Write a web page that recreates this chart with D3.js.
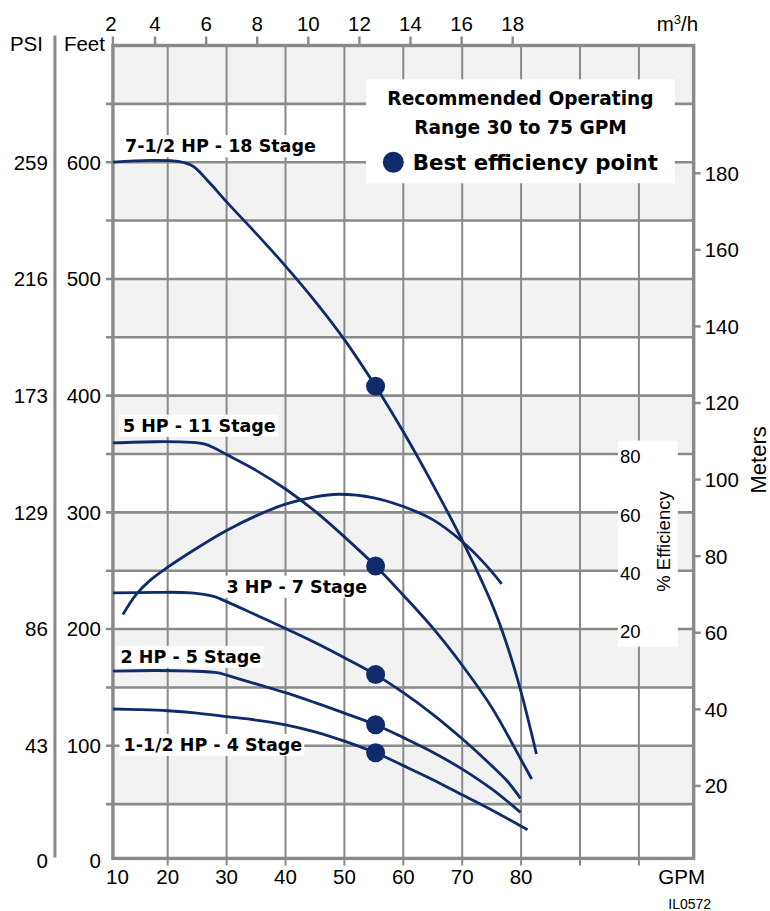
<!DOCTYPE html>
<html><head><meta charset="utf-8">
<script src="https://cdn.jsdelivr.net/npm/d3@7/dist/d3.min.js"></script>
<style>body{margin:0;background:#fff}svg{display:block}</style>
</head><body>
<svg id="c" width="770" height="911"></svg>
<script>
// ---------- data ----------
const gpmTicks = [10, 20, 30, 40, 50, 60, 70, 80];
const gpmGrid = [20, 30, 40, 50, 60, 70, 80, 90, 100];
const m3hTicks = [2, 4, 6, 8, 10, 12, 14, 16, 18];
const feetTicks = [0, 100, 200, 300, 400, 500, 600];
const psiLabels = [0, 43, 86, 129, 173, 216, 259];
const feetGrid = [50, 100, 150, 200, 250, 300, 350, 400, 450, 500, 550, 600, 650];
const meterTicks = [20, 40, 60, 80, 100, 120, 140, 160, 180];
const effTicks = [20, 40, 60, 80];

const curveNames = ["7-1/2 HP - 18 Stage", "5 HP - 11 Stage", "3 HP - 7 Stage", "2 HP - 5 Stage", "1-1/2 HP - 4 Stage"];
const hp75Flow = [10.7, 17, 22, 24.3, 27, 30, 35, 40, 45, 50, 55.3, 60, 65, 70, 75, 77.5, 80, 82.6];
const hp75Head = [600, 601.5, 600.5, 596.5, 583, 566, 539, 511, 481, 448, 408, 369, 324, 276, 222, 188, 146, 93];
const hp5Flow = [10.7, 18, 24, 26.3, 28, 30, 35, 40, 45, 50, 55.3, 60, 65, 70, 75, 80, 81.8];
const hp5Head = [359.5, 360.5, 360, 358.5, 355, 349.5, 336, 320, 301, 279, 254, 229, 201, 169, 133, 88, 71.5];
const hp3Flow = [10.7, 18, 24, 27.8, 30, 35, 40, 45, 50, 55.3, 60, 65, 70, 75, 77.6, 79.9];
const hp3Head = [231, 231.5, 231, 228, 223.5, 212, 200.5, 188.5, 175.5, 161, 145.5, 127, 106, 83, 70, 55];
const hp2Flow = [10.7, 18, 24, 28.6, 30, 35, 40, 45, 50, 55.3, 60, 65, 70, 75, 79.9];
const hp2Head = [164, 164.5, 164, 162.5, 160.5, 153, 145.5, 137, 128, 118, 107, 94.5, 80, 63, 43];
const hp15Flow = [10.7, 15, 20, 25, 30, 35, 40, 45, 50, 55.3, 60, 65, 70, 75, 81.1];
const hp15Head = [131.5, 131, 130, 128, 125, 122, 118, 112, 104, 94, 83, 71, 58, 45, 28];
const bepFlow = [55.3, 55.3, 55.3, 55.3, 55.3];
const bepHead = [408, 254, 161, 118, 94];
const effFlow = [12.4, 13.5, 14.7, 17, 20, 25, 30, 35, 40, 45, 49, 55, 60, 65, 70, 74, 76.7];
const effPct = [25, 28.6, 32, 36.7, 41.2, 47.8, 53.8, 58.8, 62.8, 65.3, 66.2, 65, 62, 57.5, 50, 42, 35.5];
// label anchors (flow, head)
const labelFlow = [12.75, 12.4, 30, 12.0, 12.5];
const labelHead = [614, 374.5, 236.5, 176.5, 101];

// ---------- scales ----------
const x = d3.scaleLinear().domain([10, 110]).range([108.8, 697.8]);
const y = d3.scaleLinear().domain([0, 700]).range([862.5, 45.5]);
const xTop = d3.scaleLinear().domain([0, 20]).range([x(0.5), x(87.25)]);
const yEff = d3.scaleLinear().domain([0, 100]).range([y(150), y(400)]);
const yMeters = m => y(m * 3.28084);

const F = {x0: x(10.7), x1: x(109.3), y0: y(700), y1: y(3.5)};
const GRID = "#8a8a8a", NAVY = "#0f2b6b", BAND = "#f2f2f2";
const REG = "'Liberation Sans', Arial, sans-serif";
const BOLD = "'DejaVu Sans', sans-serif";

const svg = d3.select("#c");

// bands
const bands = feetGrid.filter(v => v % 100 === 50);
svg.append("g").selectAll("rect").data(bands).join("rect")
  .attr("x", F.x0).attr("width", F.x1 - F.x0)
  .attr("y", d => y(d + 50)).attr("height", d => y(d) - y(d + 50))
  .attr("fill", BAND);

// vertical grid
svg.append("g").selectAll("line").data(gpmGrid).join("line")
  .attr("x1", d => x(d)).attr("x2", d => x(d))
  .attr("y1", F.y0).attr("y2", F.y1 + 7)
  .attr("stroke", GRID).attr("stroke-width", 2);
// horizontal grid
svg.append("g").selectAll("line").data(feetGrid).join("line")
  .attr("x1", F.x0 - 7).attr("x2", F.x1)
  .attr("y1", d => y(d)).attr("y2", d => y(d))
  .attr("stroke", GRID).attr("stroke-width", 2.6);
// top ticks (m3/h)
svg.append("g").selectAll("line").data(m3hTicks).join("line")
  .attr("x1", d => Math.max(xTop(d), F.x0)).attr("x2", d => Math.max(xTop(d), F.x0))
  .attr("y1", F.y0 - 9).attr("y2", F.y0)
  .attr("stroke", GRID).attr("stroke-width", 2.4);
// right ticks (meters)
svg.append("g").selectAll("line").data(meterTicks).join("line")
  .attr("x1", F.x1).attr("x2", F.x1 + 7)
  .attr("y1", d => yMeters(d)).attr("y2", d => yMeters(d))
  .attr("stroke", GRID).attr("stroke-width", 2.4);
// frame
svg.append("rect").attr("x", F.x0).attr("y", F.y0)
  .attr("width", F.x1 - F.x0).attr("height", F.y1 - F.y0)
  .attr("fill", "none").attr("stroke", GRID).attr("stroke-width", 3.4);
// PSI / Feet separator
svg.append("line").attr("x1", F.x0 - 58).attr("x2", F.x0 - 58)
  .attr("y1", F.y0 - 10).attr("y2", F.y1 - 1)
  .attr("stroke", GRID).attr("stroke-width", 3);

// ---------- axis text ----------
const txt = (g) => g.attr("font-family", REG).attr("font-size", 20.5).attr("fill", "#000");
const gl = svg.append("g").call(txt);
gl.selectAll(".ft").data(feetTicks).join("text")
  .attr("x", F.x0 - 12).attr("y", d => Math.min(y(d), F.y1 + 2)).attr("dy", "0.36em")
  .attr("text-anchor", "end").text(d => d);
gl.selectAll(".psi").data(psiLabels).join("text")
  .attr("x", F.x0 - 65).attr("y", (d, i) => Math.min(y(feetTicks[i]), F.y1 + 2)).attr("dy", "0.36em")
  .attr("text-anchor", "end").text(d => d);
gl.append("text").attr("x", F.x0 - 103).attr("y", F.y0 + 5).text("PSI");
gl.append("text").attr("x", F.x0 - 49).attr("y", F.y0 + 5).text("Feet");
gl.selectAll(".gpm").data(gpmTicks).join("text")
  .attr("x", d => Math.max(x(d), F.x0 + 4.5)).attr("y", F.y1 + 26)
  .attr("text-anchor", "middle").text(d => d);
gl.append("text").attr("x", F.x1 - 12).attr("y", F.y1 + 26).attr("text-anchor", "middle").text("GPM");
gl.selectAll(".m3").data(m3hTicks).join("text")
  .attr("x", d => Math.max(xTop(d), F.x0 - 2)).attr("y", F.y0 - 15)
  .attr("text-anchor", "middle").text(d => d);
const mh = gl.append("text").attr("x", F.x1 - 37).attr("y", F.y0 - 15);
mh.append("tspan").text("m");
mh.append("tspan").attr("font-size", 13).attr("dy", -7).text("3");
mh.append("tspan").attr("dy", 7).text("/h");
gl.selectAll(".mt").data(meterTicks).join("text")
  .attr("x", F.x1 + 11).attr("y", d => yMeters(d)).attr("dy", "0.36em").text(d => d);
gl.append("text").attr("transform", `translate(${F.x1 + 72},${y(345)}) rotate(-90)`)
  .attr("text-anchor", "middle").attr("font-size", 22).text("Meters");
gl.append("text").attr("x", F.x1 - 4).attr("y", F.y1 + 51).attr("font-size", 14)
  .attr("text-anchor", "middle").text("IL0572");

// efficiency axis box
const ebox = svg.append("g");
ebox.append("rect").attr("x", x(96.45)).attr("width", x(106.6) - x(96.45))
  .attr("y", yEff(84.6)).attr("height", yEff(14) - yEff(84.6)).attr("fill", "#fff");
ebox.selectAll("text.e").data(effTicks).join("text")
  .attr("x", x(96.8)).attr("y", d => yEff(d) + 2.5).attr("dy", "0.36em")
  .attr("font-family", REG).attr("font-size", 18.5).text(d => d);
ebox.append("text").attr("transform", `translate(${x(104.1)},${yEff(50)}) rotate(-90)`)
  .attr("text-anchor", "middle").attr("dy", "0.36em")
  .attr("font-family", REG).attr("font-size", 18.5).text("% Efficiency");

// legend
const lg = svg.append("g");
lg.append("rect").attr("x", x(53.67)).attr("width", x(106.1) - x(53.67))
  .attr("y", y(671)).attr("height", y(582) - y(671)).attr("fill", "#fff");
lg.append("text").attr("x", x(79.9)).attr("y", y(655)).attr("dy", "0.36em")
  .attr("text-anchor", "middle").attr("font-family", BOLD).attr("font-weight", "bold")
  .attr("font-size", 18.6).text("Recommended Operating");
lg.append("text").attr("x", x(79.9)).attr("y", y(630)).attr("dy", "0.36em")
  .attr("text-anchor", "middle").attr("font-family", BOLD).attr("font-weight", "bold")
  .attr("font-size", 18.6).text("Range 30 to 75 GPM");
lg.append("circle").attr("cx", x(58.3)).attr("cy", y(600)).attr("r", 10.5).attr("fill", NAVY);
lg.append("text").attr("x", x(61.6)).attr("y", y(600)).attr("dy", "0.36em")
  .attr("font-family", BOLD).attr("font-weight", "bold")
  .attr("font-size", 21.3).text("Best efficiency point");

// curve labels with white boxes
const lab = svg.append("g");
curveNames.forEach((name, i) => {
  const g = lab.append("g");
  const r = g.append("rect").attr("fill", "#fff");
  const t = g.append("text").attr("x", x(labelFlow[i])).attr("y", y(labelHead[i])).attr("dy", "0.36em")
    .attr("font-family", BOLD).attr("font-weight", "bold").attr("font-size", 17.5).text(name);
  const b = t.node().getBBox();
  r.attr("x", b.x - 4).attr("y", b.y - 1).attr("width", b.width + 6).attr("height", b.height + 2);
});

// curves
const line = d3.line().x(d => x(d[0])).y(d => y(d[1])).curve(d3.curveCatmullRom.alpha(0.5));
const headSets = [[hp75Flow, hp75Head], [hp5Flow, hp5Head], [hp3Flow, hp3Head], [hp2Flow, hp2Head], [hp15Flow, hp15Head]];
const cg = svg.append("g").attr("fill", "none").attr("stroke", NAVY).attr("stroke-width", 2.8);
headSets.forEach(([f, h]) => {
  cg.append("path").attr("d", line(f.map((v, i) => [v, h[i]])));
});
const effLine = d3.line().x(d => x(d[0])).y(d => yEff(d[1])).curve(d3.curveCatmullRom.alpha(0.5));
cg.append("path").attr("d", effLine(effFlow.map((v, i) => [v, effPct[i]])));

svg.append("g").selectAll("circle").data(bepFlow).join("circle")
  .attr("cx", d => x(d)).attr("cy", (d, i) => y(bepHead[i])).attr("r", 9.5).attr("fill", NAVY);
</script>
</body></html>
